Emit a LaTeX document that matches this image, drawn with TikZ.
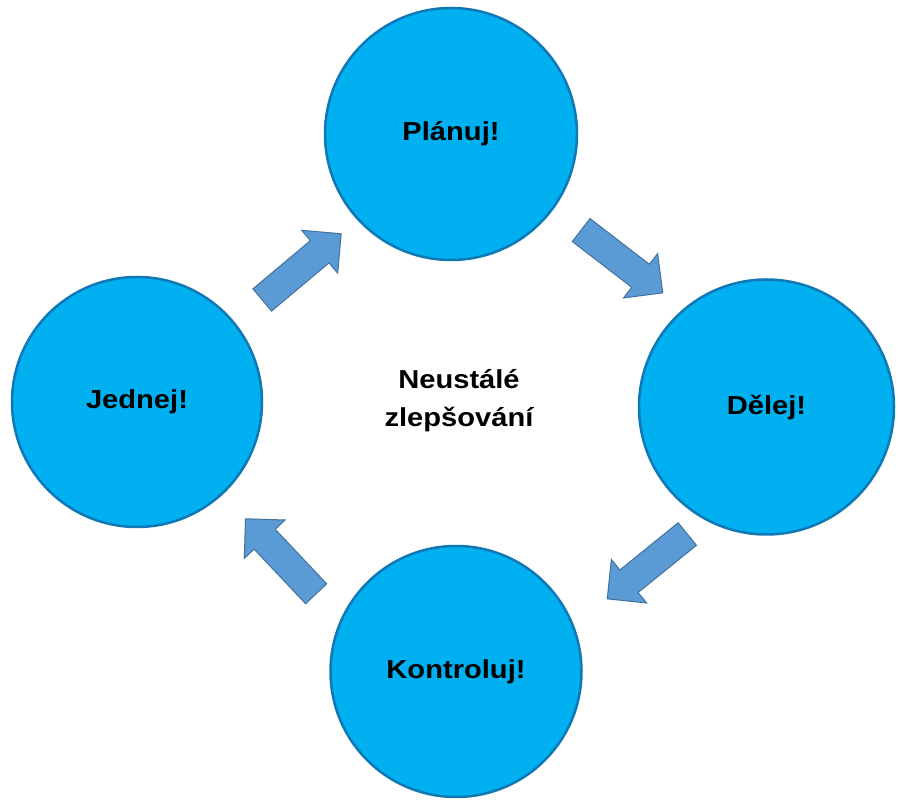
\documentclass[tikz,border=0pt]{standalone}
\usepackage{fontspec}
\setmainfont{Liberation Sans}[FakeStretch=1.12]
\usetikzlibrary{shapes,arrows,positioning,calc}
\definecolor{phaseblue}{RGB}{0,176,240}
\definecolor{phaseedge}{RGB}{16,120,180}
\definecolor{flowblue}{RGB}{91,155,213}
\definecolor{flowedge}{RGB}{65,113,156}

\begin{document}
\begin{tikzpicture}[x=1pt,y=1pt,
    phase/.style={circle, fill=phaseblue, draw=phaseedge, line width=2.5pt, inner sep=0pt,
        font=\bfseries\fontsize{26}{38}\selectfont},
    flow/.style={single arrow, fill=flowblue, draw=flowedge, line width=1pt, inner sep=0pt,
        text height=28pt, text depth=0pt, minimum height=103pt, single arrow head extend=13.5pt,
        single arrow tip angle=90, single arrow head indent=0pt, anchor=tip}]
        \useasboundingbox (0,0) rectangle (898,801);

        \node[phase, minimum size=252pt] (plan) at (451,667) {Plánuj!} ;
        \node[phase, minimum size=255pt] (do) at (766.5,394) {Dělej!} ;
        \node[phase, minimum size=251pt] (check) at (456,129.5) {Kontroluj!} ;
        \node[phase, minimum size=250pt] (act) at (137,399) {Jednej!} ;
        \node[align=center, font=\bfseries\fontsize{26}{38}\selectfont] (mid) at (459,400) {Neustálé\\zlepšování} ;

        \node[flow, rotate=40] (a1) at (341.7,567.7) {} ;
        \node[flow, rotate=-37.6] (a2) at (663.3,507.7) {} ;
        \node[flow, rotate=-141] (a3) at (606.7,201.7) {} ;
        \node[flow, rotate=133.3] (a4) at (245,282.7) {} ;
    \end{tikzpicture}
\end{document}
